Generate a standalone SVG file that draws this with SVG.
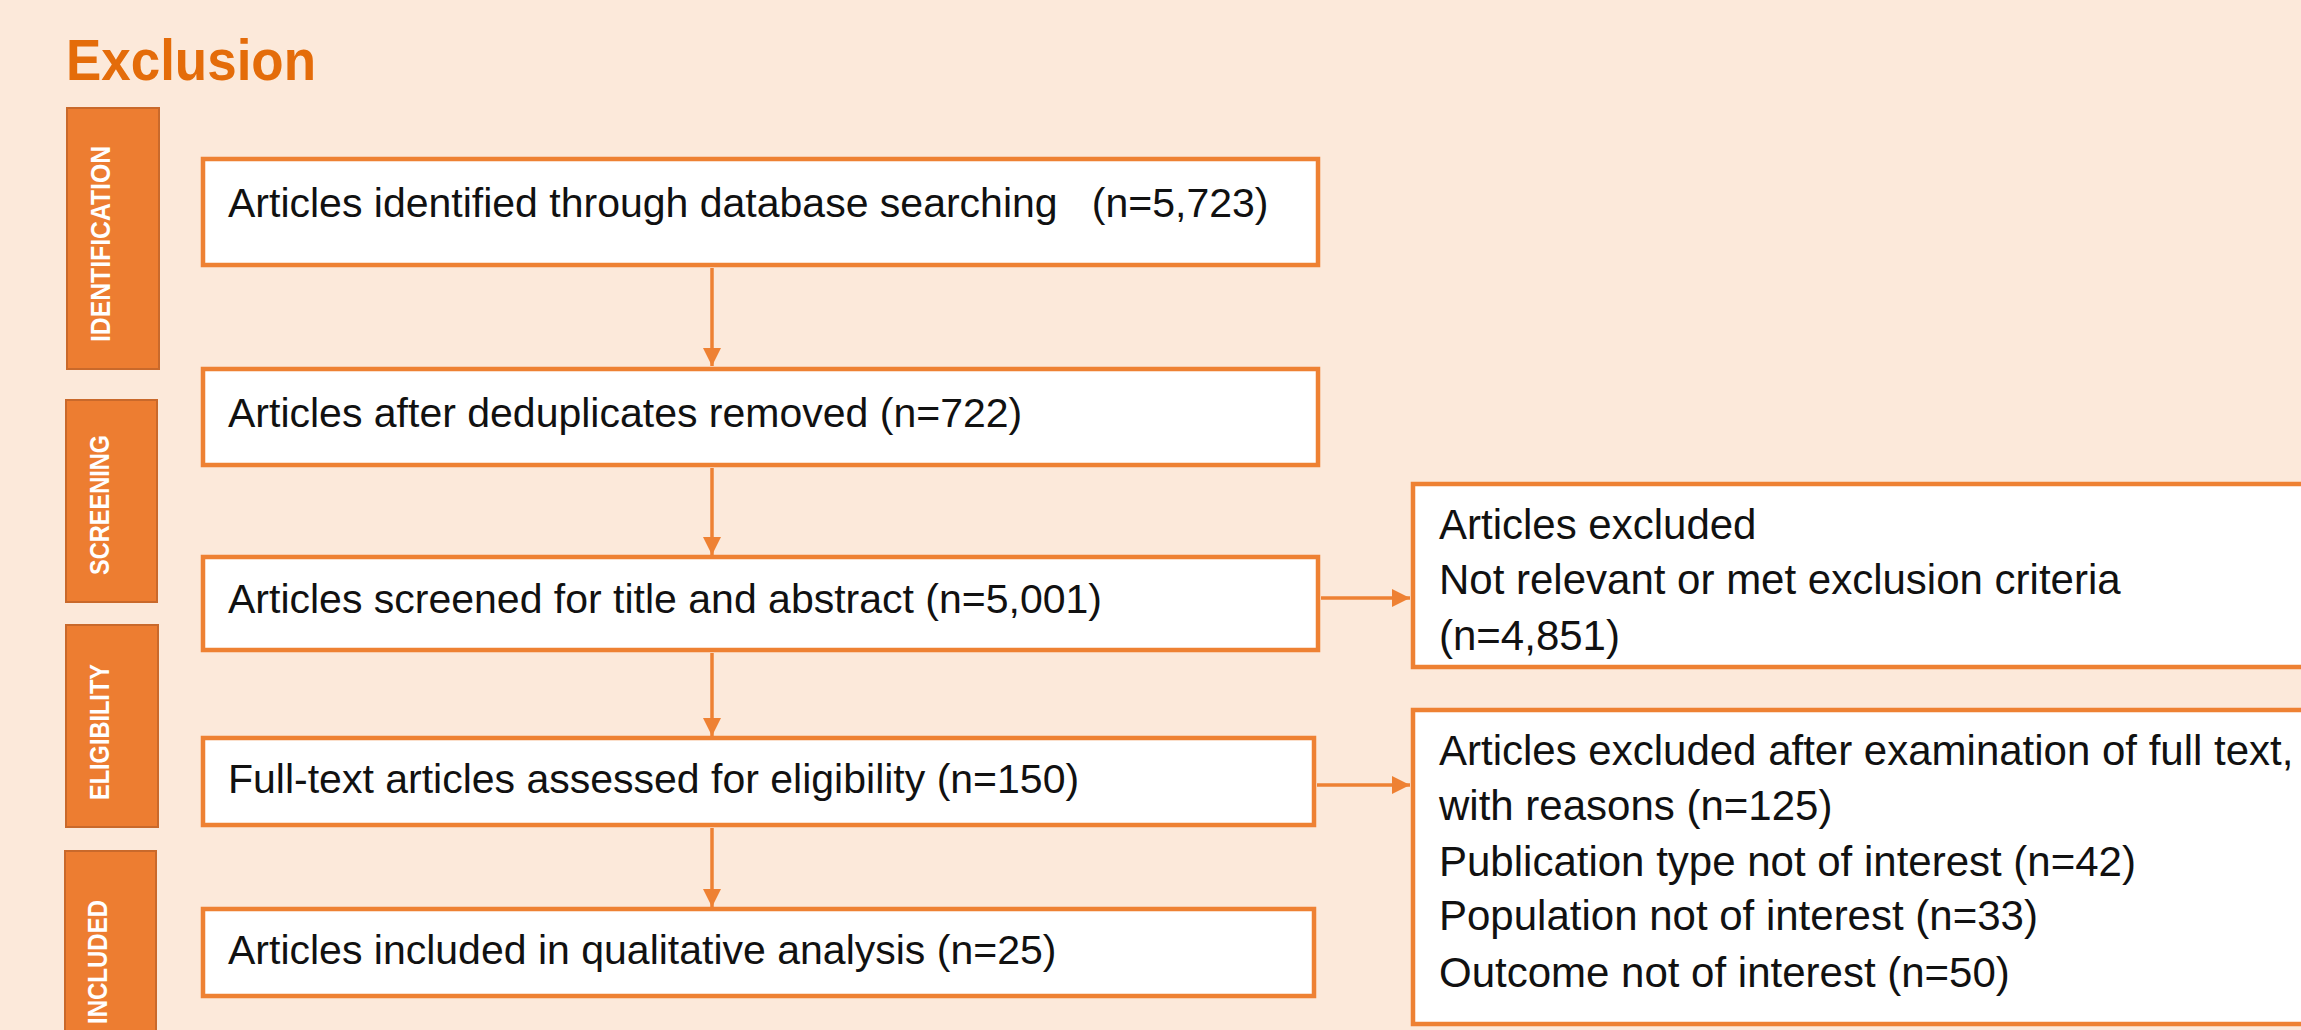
<svg xmlns="http://www.w3.org/2000/svg" width="2301" height="1030" viewBox="0 0 2301 1030">
  <style>
    .stage rect { fill: #ED7D31; stroke: #C9692B; stroke-width: 2; }
    .stage text { font-family: "Liberation Sans", Arial, sans-serif; font-weight: bold; font-size: 27px; fill: #FFFFFF; text-anchor: middle; }
    .box rect { fill: #FFFFFF; stroke: #EE8133; stroke-width: 4.5; }
    .box text { font-family: "Liberation Sans", Arial, sans-serif; font-size: 41px; fill: #111111; }
    .rbox text { font-size: 42px; }
    .conn line { stroke: #EE8133; stroke-width: 3.5; fill: none; marker-end: url(#ah); }
  </style>
  <defs>
    <marker id="ah" viewBox="0 0 10 10" refX="10" refY="5" markerWidth="18" markerHeight="18" markerUnits="userSpaceOnUse" orient="auto">
      <path d="M0,0 L10,5 L0,10 z" fill="#EE8133"/>
    </marker>
  </defs>

  <rect x="0" y="0" width="2301" height="1030" fill="#FCE9DA"/>

  <text id="title" x="66" y="80" font-family="'Liberation Sans', Arial, sans-serif" font-weight="bold" font-size="57" fill="#E46C0A" textLength="250" lengthAdjust="spacingAndGlyphs">Exclusion</text>

  <g id="stage-identification" class="stage">
    <rect x="67" y="108" width="92" height="261"/>
    <text transform="translate(110,244) rotate(-90)" textLength="196" lengthAdjust="spacingAndGlyphs">IDENTIFICATION</text>
  </g>
  <g id="stage-screening" class="stage">
    <rect x="66" y="400" width="91" height="202"/>
    <text transform="translate(109,505) rotate(-90)" textLength="140" lengthAdjust="spacingAndGlyphs">SCREENING</text>
  </g>
  <g id="stage-eligibility" class="stage">
    <rect x="66" y="625" width="92" height="202"/>
    <text transform="translate(109,732) rotate(-90)" textLength="136" lengthAdjust="spacingAndGlyphs">ELIGIBILITY</text>
  </g>
  <g id="stage-included" class="stage">
    <rect x="65" y="851" width="91" height="220"/>
    <text transform="translate(107,962) rotate(-90)" textLength="124" lengthAdjust="spacingAndGlyphs">INCLUDED</text>
  </g>

  <g id="node-identified" class="box">
    <rect x="203" y="159" width="1115" height="106"/>
    <text x="228" y="217" xml:space="preserve">Articles identified through database searching   (n=5,723)</text>
  </g>
  <g id="node-dedup" class="box">
    <rect x="203" y="369" width="1115" height="96"/>
    <text x="228" y="427">Articles after deduplicates removed (n=722)</text>
  </g>
  <g id="node-screened" class="box">
    <rect x="203" y="557" width="1115" height="93"/>
    <text x="228" y="613">Articles screened for title and abstract (n=5,001)</text>
  </g>
  <g id="node-fulltext" class="box">
    <rect x="203" y="738" width="1111" height="87"/>
    <text x="228" y="793">Full-text articles assessed for eligibility (n=150)</text>
  </g>
  <g id="node-included" class="box">
    <rect x="203" y="909" width="1111" height="87"/>
    <text x="228" y="964">Articles included in qualitative analysis (n=25)</text>
  </g>
  <g id="node-excluded1" class="box rbox">
    <rect x="1413" y="484" width="900" height="183"/>
    <text x="1439" y="539">Articles excluded</text>
    <text x="1439" y="594">Not relevant or met exclusion criteria</text>
    <text x="1439" y="650">(n=4,851)</text>
  </g>
  <g id="node-excluded2" class="box rbox">
    <rect x="1413" y="710" width="900" height="314"/>
    <text x="1439" y="765">Articles excluded after examination of full text,</text>
    <text x="1439" y="820">with reasons (n=125)</text>
    <text x="1439" y="876">Publication type not of interest (n=42)</text>
    <text x="1439" y="930">Population not of interest (n=33)</text>
    <text x="1439" y="987">Outcome not of interest (n=50)</text>
  </g>

  <g id="connectors" class="conn">
    <line x1="712" y1="268" x2="712" y2="366"/>
    <line x1="712" y1="468" x2="712" y2="555"/>
    <line x1="712" y1="653" x2="712" y2="736"/>
    <line x1="712" y1="828" x2="712" y2="907"/>
    <line x1="1321" y1="598" x2="1410" y2="598"/>
    <line x1="1317" y1="785" x2="1410" y2="785"/>
  </g>
</svg>
